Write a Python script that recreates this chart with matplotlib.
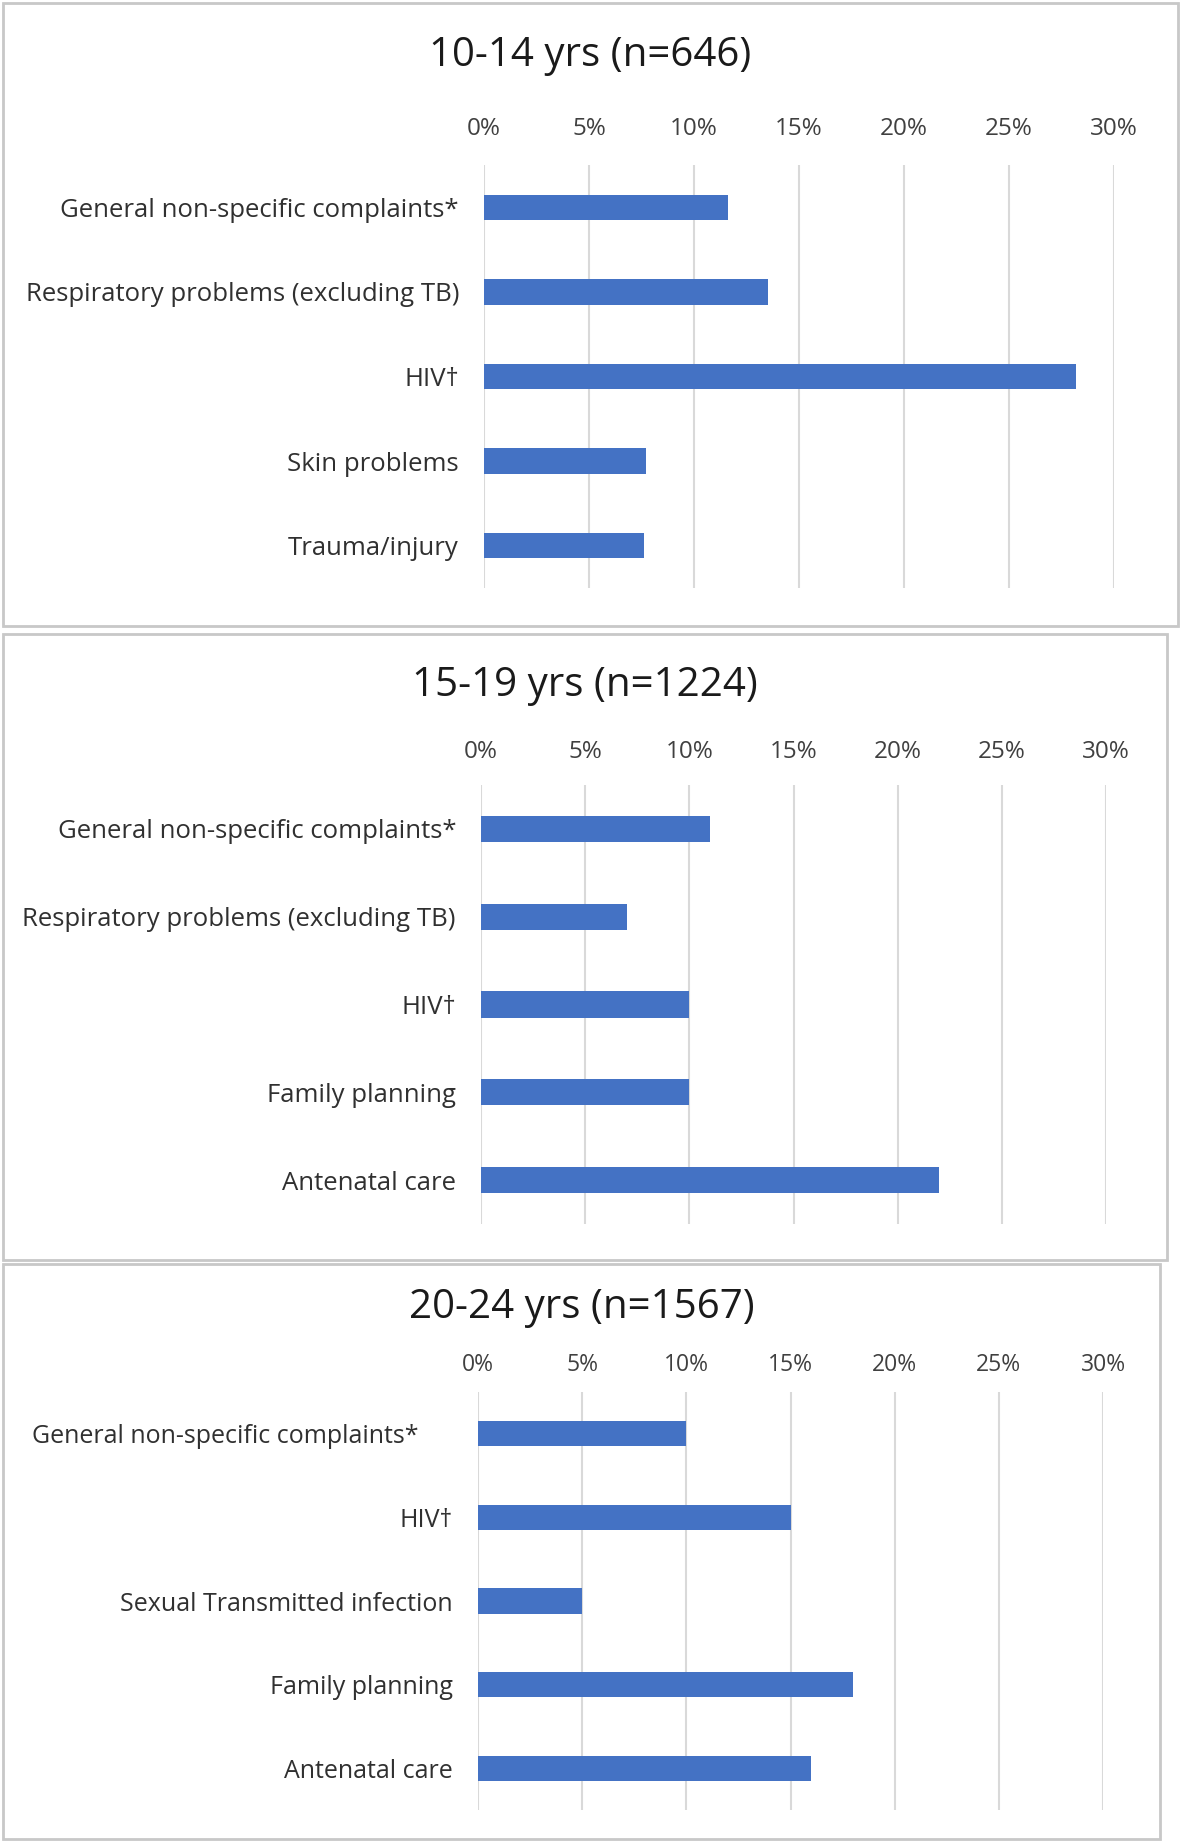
import matplotlib
matplotlib.use("Agg")
import matplotlib.pyplot as plt
from matplotlib.patches import Rectangle
from matplotlib.ticker import PercentFormatter
from matplotlib.transforms import ScaledTranslation

plt.rcParams['font.family'] = ['Open Sans', 'DejaVu Sans']

# data (percent of visits)
titles = ["10-14 yrs (n=646)", "15-19 yrs (n=1224)", "20-24 yrs (n=1567)"]

labels_1014 = ["General non-specific complaints*", "Respiratory problems (excluding TB)",
               "HIV\u2020", "Skin problems", "Trauma/injury"]
values_1014 = [11.6, 13.5, 28.2, 7.7, 7.6]

labels_1519 = ["General non-specific complaints*", "Respiratory problems (excluding TB)",
               "HIV\u2020", "Family planning", "Antenatal care"]
values_1519 = [11.0, 7.0, 10.0, 10.0, 22.0]

labels_2024 = ["General non-specific complaints*", "HIV\u2020",
               "Sexual Transmitted infection", "Family planning", "Antenatal care"]
values_2024 = [10.0, 15.0, 5.0, 18.0, 16.0]

xticks = [0, 5, 10, 15, 20, 25, 30]

W, H = 1181, 1842
BAR = "#4472C4"
GRID = "#D9D9D9"
BORDER = "#C8C8C8"

fig = plt.figure(figsize=(W / 100, H / 100), dpi=100)


def px_rect(x0, y0, x1, y1):
    # pixel box (top-left origin) -> figure fraction [l, b, w, h]
    return [x0 / W, 1 - y1 / H, (x1 - x0) / W, (y1 - y0) / H]


# panel layout in pixels: frame box, axes box, title y, font sizes, tick pad
panels = [
    dict(box=(3, 3, 1178, 626), ax=(484, 165, 1114, 588), title_y=56,
         lsize=18.5, tsize=17.5, tpad=17.5),
    dict(box=(3, 634, 1167, 1260), ax=(481, 785, 1106, 1224), title_y=686,
         lsize=18.5, tsize=17.5, tpad=15),
    dict(box=(3, 1264, 1160, 1839), ax=(478, 1392, 1103, 1810), title_y=1308,
         lsize=18, tsize=16.5, tpad=11),
]
data = [(labels_1014, values_1014), (labels_1519, values_1519), (labels_2024, values_2024)]

axes = []
for p, title, (labels, values) in zip(panels, titles, data):
    bx = p["box"]
    l, b, w, h = px_rect(*bx)
    fig.patches.append(Rectangle((l, b), w, h, transform=fig.transFigure,
                                 facecolor="none", edgecolor=BORDER, linewidth=2))

    ax = fig.add_axes(px_rect(*p["ax"]))
    y = list(range(len(labels)))
    ax.barh(y, values, height=0.3, color=BAR, zorder=3)
    ax.set_ylim(4.5, -0.5)
    ax.set_xlim(0, 30)
    ax.set_xticks(xticks)
    ax.xaxis.set_major_formatter(PercentFormatter(decimals=0))
    ax.xaxis.tick_top()
    ax.tick_params(axis="x", length=0, pad=p["tpad"], labelsize=p["tsize"], labelcolor="#404040")
    ax.set_yticks(y)
    ax.set_yticklabels(labels)
    ax.tick_params(axis="y", length=0, pad=18, labelsize=p["lsize"], labelcolor="#303030")
    ax.grid(axis="x", color=GRID, linewidth=1.5, zorder=0)
    for s in ax.spines.values():
        s.set_visible(False)
    ax.set_facecolor("none")
    axes.append(ax)

    cx = (bx[0] + bx[2]) / 2
    fig.text(cx / W, 1 - p["title_y"] / H, title, ha="center", va="center",
             fontsize=29, color="#1a1a1a")

# in the last panel the first label sits further left than the others
lab = axes[2].get_yticklabels()[0]
lab.set_transform(lab.get_transform() + ScaledTranslation(-0.34, 0, fig.dpi_scale_trans))

fig.savefig("out.png", dpi=100)
